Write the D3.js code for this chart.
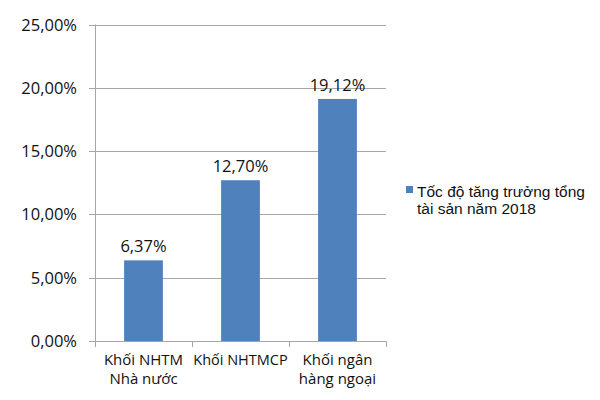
<!DOCTYPE html>
<html><head><meta charset="utf-8">
<script src="https://cdn.jsdelivr.net/npm/d3@7"></script>
<style>body{margin:0;background:#fff}</style>
</head><body>
<svg id="c" width="600" height="400"></svg>
<script>
const categories = [["Khối NHTM","Nhà nước"],["Khối NHTMCP"],["Khối ngân","hàng ngoại"]];
const values = [6.37, 12.70, 19.12];
const valueLabels = ["6,37%","12,70%","19,12%"];
const yTicks = [0,5,10,15,20,25];
const yTickLabels = ["0,00%","5,00%","10,00%","15,00%","20,00%","25,00%"];
const seriesName = ["Tốc độ tăng trưởng tổng","tài sản năm 2018"];

(function(){
const svg = d3.select("#c");
const mLeft = 95, mRight = 386, mTop = 24.5, mBottom = 341;
const x = d3.scaleBand().domain(d3.range(values.length)).range([mLeft,mRight]).paddingInner(0.6).paddingOuter(0.3);
const xb = d3.scaleBand().domain(d3.range(values.length)).range([mLeft,mRight]);
const y = d3.scaleLinear().domain([0,25]).range([mBottom,mTop]);
const grid = "#a6a6a6";
const ink = "#111";

svg.append("g").selectAll("line").data(yTicks).join("line")
  .attr("x1",mLeft-6).attr("x2",mRight).attr("y1",d=>Math.round(y(d))+0.5).attr("y2",d=>Math.round(y(d))+0.5)
  .attr("stroke",grid).attr("stroke-width",1);
svg.append("line").attr("x1",mLeft+0.5).attr("x2",mLeft+0.5).attr("y1",mTop).attr("y2",mBottom+1).attr("stroke",grid);
svg.append("g").selectAll("text").data(yTicks).join("text")
  .attr("x",77).attr("y",d=>y(d)+6).attr("text-anchor","end")
  .attr("font-family","Open Sans, sans-serif").attr("font-size",16.5).attr("fill",ink)
  .text((d,i)=>yTickLabels[i]);
const bounds = d3.range(values.length+1).map(i=> i<values.length ? xb(i) : mRight);
svg.append("g").selectAll("line").data(bounds).join("line")
  .attr("x1",d=>Math.round(d)+0.5).attr("x2",d=>Math.round(d)+0.5).attr("y1",mBottom).attr("y2",mBottom+6).attr("stroke",grid);
svg.append("g").selectAll("rect").data(values).join("rect")
  .attr("x",(d,i)=>x(i)).attr("width",x.bandwidth())
  .attr("y",d=>y(d)).attr("height",d=>mBottom-y(d)).attr("fill","#4f81bd");
svg.append("g").selectAll("text").data(values).join("text")
  .attr("x",(d,i)=>x(i)+x.bandwidth()/2).attr("y",d=>y(d)-8).attr("text-anchor","middle")
  .attr("font-family","Open Sans, sans-serif").attr("font-size",16.5).attr("fill",ink)
  .text((d,i)=>valueLabels[i]);
const cg = svg.append("g");
categories.forEach((lines,i)=>{
  lines.forEach((s,j)=>cg.append("text").attr("text-anchor","middle")
    .attr("font-family","Open Sans, sans-serif").attr("font-size", lines.length===1?14.5:15)
    .attr("fill",ink).attr("x",xb(i)+xb.bandwidth()/2).attr("y",365+j*19).text(s));
});
svg.append("rect").attr("x",406).attr("y",186).attr("width",7).attr("height",7).attr("fill","#4f81bd");
seriesName.forEach((s,j)=>svg.append("text").attr("font-family","Liberation Sans, Arial, sans-serif")
  .attr("font-size",15.5).attr("fill",ink).attr("x",417).attr("y",197+j*17).text(s));
})();
</script>
</body></html>
